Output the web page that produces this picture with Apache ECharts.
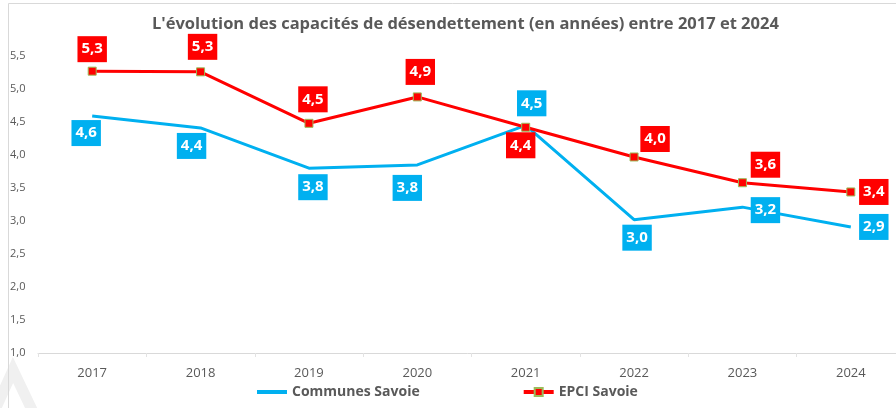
<!DOCTYPE html>
<html><head><meta charset="utf-8">
<script src="https://cdn.jsdelivr.net/npm/echarts@6/dist/echarts.min.js"></script>
<style>html,body{margin:0;padding:0;background:#fff}#c{width:896px;height:408px}</style>
</head><body><div id="c"></div>
<script>
const years = ['2017','2018','2019','2020','2021','2022','2023','2024'];
const communes = [4.59, 4.41, 3.80, 3.85, 4.45, 3.02, 3.21, 2.91];
const communesLabels = ['4,6','4,4','3,8','3,8','4,5','3,0','3,2','2,9'];
const epci = [5.27, 5.26, 4.48, 4.88, 4.42, 3.97, 3.58, 3.44];
const epciLabels = ['5,3','5,3','4,5','4,9','4,4','4,0','3,6','3,4'];
const yTicks = [1.0,1.5,2.0,2.5,3.0,3.5,4.0,4.5,5.0,5.5];
// label placement (offset from point)
const communesOffsets = [[-6,17],[-9,18],[4,19],[-10,23],[6,-22],[3,18],[23,3],[23,0]];
const epciOffsets = [[0,-22],[2,-25],[4,-24],[3,-25],[-5,18],[21,-18],[23,-18],[23,0]];

const FONT = '"Open Sans", "Liberation Sans", sans-serif';
const chart = echarts.init(document.getElementById('c'), null, {renderer:'canvas'});
function labelCfg(bg){
  return {show:true, position:'inside', align:'center', verticalAlign:'middle',
    color:'#fff', fontWeight:'bold', fontSize:15, fontFamily:FONT, opacity:1,
    backgroundColor:bg, padding:[3,4,3,4], lineHeight:20};
}
chart.setOption({
  animation:false,
  backgroundColor:'#fff',
  title:{text:"L'évolution des capacités de désendettement (en années) entre 2017 et 2024",
    left:147, top:11, textStyle:{fontFamily:FONT, fontSize:16.5, fontWeight:'bold', color:'#595959'}},
  graphic:[
    {type:'rect', shape:{x:8.5,y:3.5,width:900,height:420}, style:{fill:'none', stroke:'#d9d9d9', lineWidth:1}, silent:true, z:-1},
    {type:'polyline', shape:{points:[[-6,412],[13,370],[33,412]]}, style:{fill:'none', stroke:'#f0f0f0', lineWidth:11}, silent:true, z:-2}
  ],
  legend:{bottom:4, left:250, itemGap:102, itemWidth:30, itemHeight:10,
    textStyle:{fontFamily:FONT, fontSize:14, fontWeight:'bold', color:'#595959'},
    data:[{name:'Communes Savoie', itemStyle:{opacity:0}, lineStyle:{width:4}},
          {name:'EPCI Savoie', lineStyle:{width:4}}]},
  grid:{left:38, width:867, top:56, bottom:55, outerBoundsMode:'none', containLabel:false},
  xAxis:{type:'category', data:years, boundaryGap:true,
    axisLine:{lineStyle:{color:'#d9d9d9', width:1}},
    axisTick:{show:true, length:4, lineStyle:{color:'#e3e3e3'}},
    axisLabel:{color:'#595959', fontFamily:FONT, fontSize:13, margin:14}},
  yAxis:{type:'value', min:1, max:5.5, interval:0.5,
    splitLine:{show:false}, axisLine:{show:false}, axisTick:{show:false},
    axisLabel:{color:'#595959', fontFamily:FONT, fontSize:11, margin:28, align:'left',
      formatter:function(v){return v.toFixed(1).replace('.',',');}}},
  series:[
    {name:'Communes Savoie', type:'line', data:communes.map((v,i)=>({value:v,
        label:Object.assign(labelCfg('#00B0F0'),{offset:communesOffsets[i], formatter:communesLabels[i]})})),
      symbol:'circle', symbolSize:1, itemStyle:{color:'rgba(0,176,240,0)', borderWidth:0},
      lineStyle:{color:'#00B0F0', width:3}, z:2},
    {name:'EPCI Savoie', type:'line', data:epci.map((v,i)=>({value:v,
        label:Object.assign(labelCfg('#FF0000'),{offset:epciOffsets[i], formatter:epciLabels[i]})})),
      symbol:'rect', symbolSize:8,
      lineStyle:{color:'#FF0000', width:3}, itemStyle:{color:'#FF0000', borderColor:'#9BBB59', borderWidth:1}, z:3}
  ]
});
</script></body></html>
